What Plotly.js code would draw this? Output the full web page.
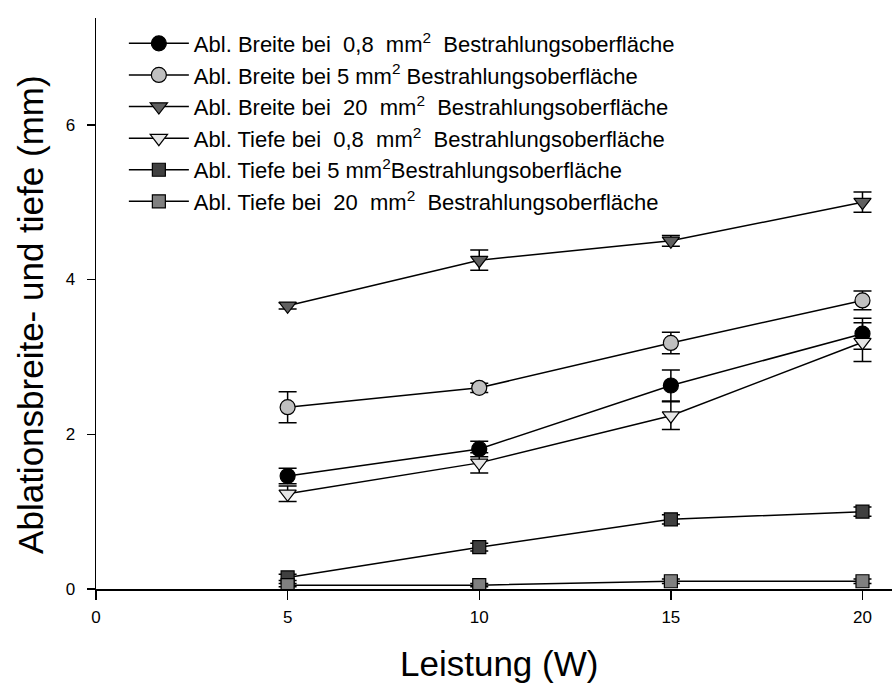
<!DOCTYPE html>
<html>
<head>
<meta charset="utf-8">
<script src="https://cdn.plot.ly/plotly-3.0.1.min.js"></script>
<style>html,body{margin:0;padding:0;background:#fff;}#chart{width:892px;height:691px;}</style>
</head>
<body>
<div id="chart"></div>
<script>
const leistung = [5, 10, 15, 20];

const names = [
  "Abl. Breite bei\u00a0 0,8\u00a0 mm<sup>2</sup>\u00a0 Bestrahlungsoberfläche",
  "Abl. Breite bei 5 mm<sup>2</sup> Bestrahlungsoberfläche",
  "Abl. Breite bei\u00a0 20\u00a0 mm<sup>2</sup>\u00a0 Bestrahlungsoberfläche",
  "Abl. Tiefe bei\u00a0 0,8\u00a0 mm<sup>2</sup>\u00a0 Bestrahlungsoberfläche",
  "Abl. Tiefe bei 5 mm<sup>2</sup>Bestrahlungsoberfläche",
  "Abl. Tiefe bei\u00a0 20\u00a0 mm<sup>2</sup>\u00a0 Bestrahlungsoberfläche"
];
const xTitle = "Leistung (W)";
const yTitle = "Ablationsbreite- und tiefe (mm)";

const breite08 = [1.46, 1.81, 2.63, 3.30];
const breite08Err = [0.10, 0.10, 0.20, 0.20];
const breite5 = [2.35, 2.60, 3.18, 3.73];
const breite5Err = [0.20, 0.06, 0.14, 0.12];
const breite20 = [3.66, 4.25, 4.50, 5.00];
const breite20Err = [0.04, 0.13, 0.07, 0.13];
const tiefe08 = [1.23, 1.63, 2.24, 3.19];
const tiefe08Err = [0.10, 0.13, 0.18, 0.25];
const tiefe5 = [0.15, 0.54, 0.90, 1.00];
const tiefe5Err = [0.04, 0.05, 0.06, 0.06];
const tiefe20 = [0.05, 0.05, 0.10, 0.10];
const tiefe20Err = [0.02, 0.02, 0.03, 0.03];

const series = [
  {y: breite08, e: breite08Err, sym: "circle", col: "#000000", size: 15},
  {y: breite5, e: breite5Err, sym: "circle", col: "#c0c0c0", size: 15},
  {y: breite20, e: breite20Err, sym: "triangle-down", col: "#606060", size: 15},
  {y: tiefe08, e: tiefe08Err, sym: "triangle-down", col: "#e6e6e6", size: 15},
  {y: tiefe5, e: tiefe5Err, sym: "square", col: "#404040", size: 13},
  {y: tiefe20, e: tiefe20Err, sym: "square", col: "#808080", size: 13}
];

const traces = series.map((s, i) => ({
  x: leistung,
  y: s.y,
  name: names[i],
  type: "scatter",
  mode: "lines+markers",
  line: {color: "#000000", width: 1.5},
  marker: {symbol: s.sym, color: s.col, size: s.size, line: {color: "#000000", width: 1.2}},
  error_y: {type: "data", array: s.e, visible: true, color: "#000000", thickness: 1.5, width: 9}
}));

const layout = {
  width: 892,
  height: 691,
  margin: {l: 96, r: 0, t: 18, b: 102},
  paper_bgcolor: "#ffffff",
  plot_bgcolor: "#ffffff",
  font: {family: "Liberation Sans, Arial, sans-serif", color: "#000000", size: 16},
  showlegend: true,
  legend: {
    x: 0.035, y: 0.992, xanchor: "left", yanchor: "top",
    bgcolor: "rgba(0,0,0,0)",
    font: {size: 22, color: "#000000"},
    itemwidth: 60,
    tracegroupgap: 0
  },
  xaxis: {
    range: [0, 20.77],
    tickvals: [0, 5, 10, 15, 20],
    ticktext: ["0", "5", "10", "15", "20"],
    showgrid: false, zeroline: false,
    showline: true, linecolor: "#000000", linewidth: 1.5,
    ticks: "outside", ticklen: 9, tickwidth: 1.5, tickcolor: "#000000",
    tickfont: {size: 17}, ticklabelstandoff: 3
  },
  yaxis: {
    range: [0, 7.38],
    tickvals: [0, 2, 4, 6],
    ticktext: ["0", "2", "4", "6"],
    showgrid: false, zeroline: false,
    showline: true, linecolor: "#000000", linewidth: 1.5,
    ticks: "outside", ticklen: 8, tickwidth: 1.5, tickcolor: "#000000",
    tickfont: {size: 17}, ticklabelstandoff: 8
  },
  annotations: [
    {text: xTitle, xref: "paper", yref: "paper", x: 0.506, y: 0, yshift: -74,
     xanchor: "center", yanchor: "middle", showarrow: false, font: {size: 35}},
    {text: yTitle, xref: "paper", yref: "paper", x: 0, xshift: -65, y: 0.48,
     xanchor: "center", yanchor: "middle", textangle: -90, showarrow: false, font: {size: 35}}
  ]
};

Plotly.newPlot("chart", traces, layout, {displayModeBar: false, staticPlot: true});
</script>
</body>
</html>
